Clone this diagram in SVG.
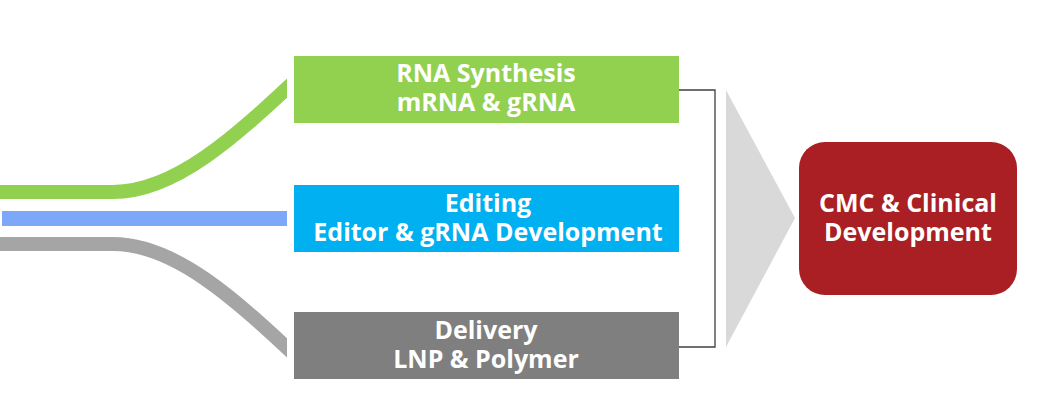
<svg xmlns="http://www.w3.org/2000/svg" width="1048" height="413" viewBox="0 0 1048 413">
<style>
.t{font-family:"Open Sans","Noto Sans","Liberation Sans",sans-serif;font-weight:700;font-size:25px;fill:#fff;text-anchor:middle}
.band{fill:none;stroke-width:14}
</style>
<defs>
<clipPath id="clipL"><rect x="0" y="0" width="287" height="413"/></clipPath>
</defs>
<rect width="1048" height="413" fill="#fff"/>
<g id="bands" clip-path="url(#clipL)">
<path class="band" stroke="#92D050" d="M0,192 H113 C175,192 235,137 300,76"/>
<rect x="2" y="211" width="286" height="15" fill="#7DA7F9"/>
<path class="band" stroke="#A5A5A5" d="M0,244 H113 C175,244 235,299 300,360"/>
</g>
<g id="connectors">
<path d="M679,90 H715 V347 H679" fill="none" stroke="#404040" stroke-width="1.3"/>
<polygon points="726,90 795,218 726,347" fill="#D9D9D9"/>
</g>
<g id="rna">
<rect x="294" y="56" width="385" height="67" fill="#92D050"/>
<text class="t"><tspan x="486" y="82">RNA Synthesis</tspan><tspan x="486" y="111">mRNA &amp; gRNA</tspan></text>
</g>
<g id="editing">
<rect x="294" y="185" width="385" height="67" fill="#00B0F0"/>
<text class="t"><tspan x="488" y="212">Editing</tspan><tspan x="488" y="241">Editor &amp; gRNA Development</tspan></text>
</g>
<g id="delivery">
<rect x="294" y="312" width="385" height="67" fill="#7F7F7F"/>
<text class="t"><tspan x="486" y="339">Delivery</tspan><tspan x="486" y="368">LNP &amp; Polymer</tspan></text>
</g>
<g id="cmc">
<rect x="799" y="142" width="218" height="153" rx="26" fill="#A91F24"/>
<text class="t"><tspan x="908" y="212">CMC &amp; Clinical</tspan><tspan x="908" y="241">Development</tspan></text>
</g>
</svg>
